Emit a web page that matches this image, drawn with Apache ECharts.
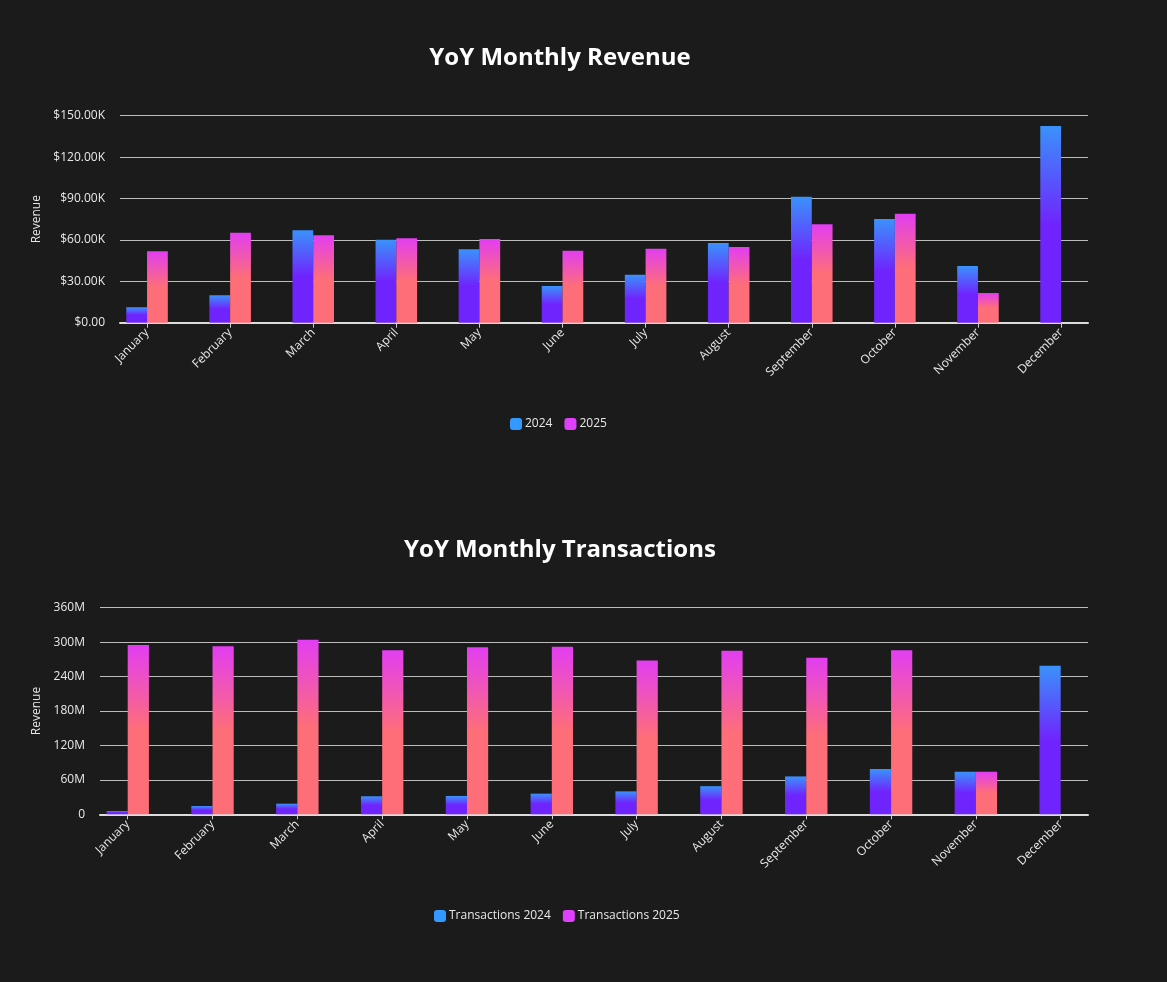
<!DOCTYPE html>
<html>
<head>
<meta charset="utf-8">
<script src="https://cdn.jsdelivr.net/npm/echarts@6/dist/echarts.min.js"></script>
<style>
  html, body { margin: 0; padding: 0; background: #1b1b1b; }
  #chart { width: 1167px; height: 982px; }
</style>
</head>
<body>
<div id="chart"></div>
<script>
const months = ['January', 'February', 'March', 'April', 'May', 'June', 'July', 'August', 'September', 'October', 'November', 'December'];

// Revenue in dollars
const revenue2024 = [11200, 19900, 67000, 60100, 53200, 26600, 34800, 57700, 91300, 75100, 41100, 142500];
const revenue2025 = [51700, 65200, 63300, 61200, 60600, 52200, 53600, 54800, 71300, 79000, 21500, 0];

// Transactions in millions
const transactions2024 = [5.8, 14.5, 18.5, 31.4, 32, 36, 40, 49, 66, 79, 74, 259];
const transactions2025 = [295, 293, 304, 286, 291, 292, 268, 285, 273, 286, 74, 0];

const revenueTicks = { min: 0, max: 150000, interval: 30000 };
const txTicks = { min: 0, max: 360, interval: 60 };

const FONT = 'Open Sans';
const TXT = '#e8e8e8';

function grad2024() {
  return new echarts.graphic.LinearGradient(0, 0, 0, 1, [
    { offset: 0, color: '#3a92fb' },
    { offset: 0.5, color: '#7024fd' },
    { offset: 1, color: '#7024fd' }
  ]);
}
function grad2025() {
  return new echarts.graphic.LinearGradient(0, 0, 0, 1, [
    { offset: 0, color: '#e23ef2' },
    { offset: 0.5, color: '#fe6e78' },
    { offset: 1, color: '#fe6e78' }
  ]);
}

const chart = echarts.init(document.getElementById('chart'), null, { renderer: 'canvas' });

function barXAxis(gridIndex) {
  return {
    type: 'category', gridIndex, data: months,
    axisLine: { show: false },
    axisTick: { show: true, alignWithLabel: true, length: 5, lineStyle: { color: '#cfcfcf', width: 1 } },
    axisLabel: { rotate: 45, color: TXT, fontFamily: FONT, fontSize: 12, margin: 8 },
    splitLine: { show: false }
  };
}
function frameXAxis(gridIndex) {
  return {
    type: 'value', gridIndex, min: 0, max: 1,
    axisLine: { show: true, onZero: false, lineStyle: { color: '#dcdcdc', width: 2 } },
    axisTick: { show: false }, axisLabel: { show: false }, splitLine: { show: false }
  };
}
function hiddenY(gridIndex, t) {
  return { type: 'value', gridIndex, min: t.min, max: t.max, interval: t.interval, show: false, splitLine: { show: false } };
}
function frameY(gridIndex, t, fmt, nameGap) {
  return {
    type: 'value', gridIndex, min: t.min, max: t.max, interval: t.interval,
    name: 'Revenue', nameLocation: 'middle', nameGap: nameGap,
    nameTextStyle: { color: TXT, fontFamily: FONT, fontSize: 12 },
    axisLine: { show: false }, axisTick: { show: false },
    axisLabel: { color: TXT, fontFamily: FONT, fontSize: 12, margin: 15, formatter: fmt },
    splitLine: { show: true, lineStyle: { color: '#bcbcbc', width: 1 } }
  };
}

const option = {
  backgroundColor: '#1b1b1b',
  animation: false,
  title: [
    { text: 'YoY Monthly Revenue', left: 555, top: 41, textAlign: 'center',
      textStyle: { color: '#ffffff', fontFamily: FONT, fontWeight: 'bold', fontSize: 24 } },
    { text: 'YoY Monthly Transactions', left: 555, top: 533, textAlign: 'center',
      textStyle: { color: '#ffffff', fontFamily: FONT, fontWeight: 'bold', fontSize: 24 } }
  ],
  legend: [
    { left: 510, top: 418, padding: 0, data: [{ name: '2024', itemStyle: { color: '#3399ff' } }, { name: '2025', itemStyle: { color: '#e040fb' } }],
      icon: 'roundRect', itemWidth: 12, itemHeight: 12, itemGap: 12,
      textStyle: { color: TXT, fontFamily: FONT, fontSize: 12, padding: [0, 0, 0, -2] } },
    { left: 434, top: 910, padding: 0, data: [{ name: 'Transactions 2024', itemStyle: { color: '#3399ff' } }, { name: 'Transactions 2025', itemStyle: { color: '#e040fb' } }],
      icon: 'roundRect', itemWidth: 12, itemHeight: 12, itemGap: 12,
      textStyle: { color: TXT, fontFamily: FONT, fontSize: 12, padding: [0, 0, 0, -2] } }
  ],
  grid: [
    { left: 105.5, right: 64.4, top: 115.7, bottom: 659.3 },   // top bars
    { left: 120, right: 79, top: 115.7, bottom: 659.3 },       // top frame
    { left: 85.3, right: 63.9, top: 607.7, bottom: 167.7 },    // bottom bars
    { left: 100, right: 79, top: 607.7, bottom: 167.7 }        // bottom frame
  ],
  xAxis: [barXAxis(0), frameXAxis(1), barXAxis(2), frameXAxis(3)],
  yAxis: [
    hiddenY(0, revenueTicks),
    frameY(1, revenueTicks, v => v === 0 ? '$0.00' : '$' + (v / 1000).toFixed(2) + 'K', 75),
    hiddenY(2, txTicks),
    frameY(3, txTicks, v => v === 0 ? '0' : v + 'M', 55)
  ],
  series: [
    { name: '2024', type: 'bar', xAxisIndex: 0, yAxisIndex: 0, data: revenue2024, barWidth: '25%', barGap: '0%', itemStyle: { color: grad2024() }, z: 3 },
    { name: '2025', type: 'bar', xAxisIndex: 0, yAxisIndex: 0, data: revenue2025, barWidth: '25%', barGap: '0%', itemStyle: { color: grad2025() }, z: 3 },
    { name: 'Transactions 2024', type: 'bar', xAxisIndex: 2, yAxisIndex: 2, data: transactions2024, barWidth: '25%', barGap: '0%', itemStyle: { color: grad2024() }, z: 3 },
    { name: 'Transactions 2025', type: 'bar', xAxisIndex: 2, yAxisIndex: 2, data: transactions2025, barWidth: '25%', barGap: '0%', itemStyle: { color: grad2025() }, z: 3 }
  ]
};
chart.setOption(option);
</script>
</body>
</html>
